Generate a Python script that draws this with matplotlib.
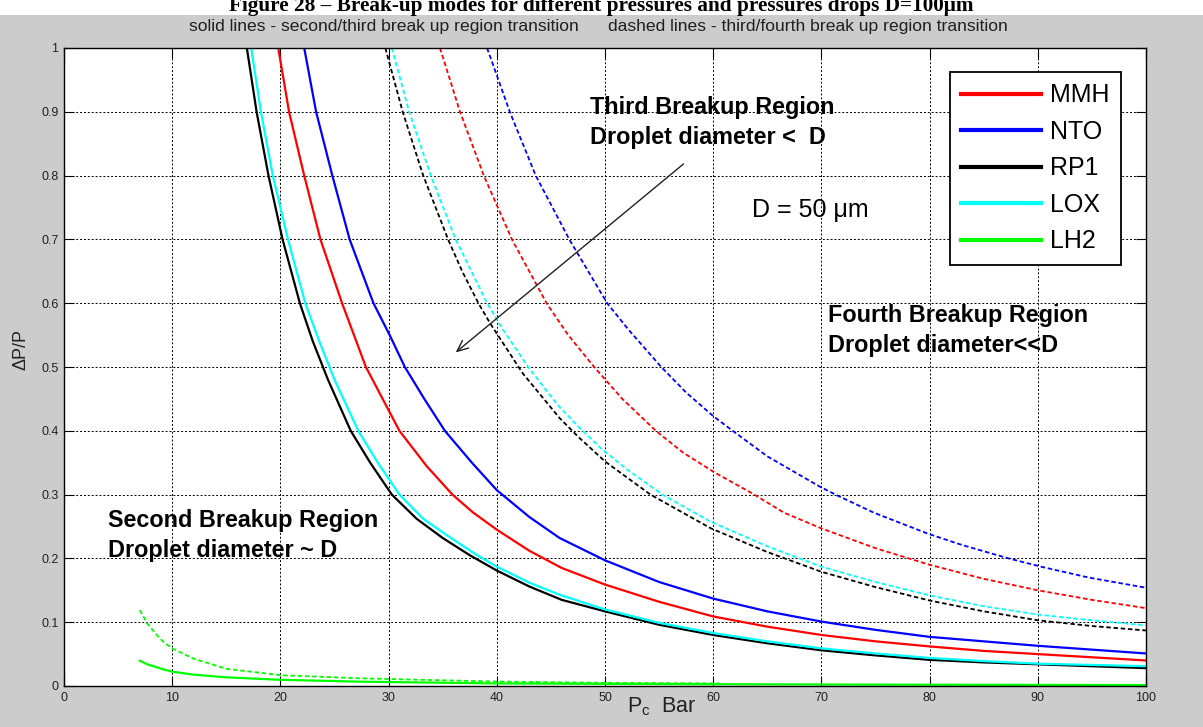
import matplotlib
matplotlib.use("Agg")
import matplotlib.pyplot as plt
from matplotlib.patches import Rectangle
from matplotlib.lines import Line2D
from matplotlib.ticker import FuncFormatter

plt.rcParams['font.family'] = ['Liberation Sans', 'DejaVu Sans']
plt.rcParams['mathtext.fontset'] = 'custom'
plt.rcParams['mathtext.rm'] = 'Liberation Sans'
plt.rcParams['mathtext.it'] = 'Liberation Sans'

# solid lines: second/third break up region transition
mmh_x = [19.8, 20.8, 22.2, 23.7, 25.7, 27.9, 31.0, 33.5, 35.9, 37.8, 40, 43, 46, 50,
         55, 60, 65, 70, 75, 80, 85, 90, 95, 100]
mmh_y = [1.0, 0.9, 0.8, 0.7, 0.6, 0.5, 0.4, 0.345, 0.30, 0.272, 0.245, 0.212, 0.185, 0.159,
         0.132, 0.109, 0.093, 0.080, 0.070, 0.062, 0.055, 0.050, 0.045, 0.040]
nto_x = [22.2, 23.3, 24.8, 26.4, 28.6, 30.1, 31.5, 33.3, 35.2, 37.7, 40, 43, 45.8, 50,
         55, 60, 65, 70, 75, 80, 85, 90, 95, 100]
nto_y = [1.0, 0.9, 0.8, 0.7, 0.6, 0.55, 0.5, 0.45, 0.4, 0.35, 0.307, 0.265, 0.232, 0.197,
         0.163, 0.137, 0.117, 0.101, 0.088, 0.077, 0.070, 0.063, 0.057, 0.051]
rp1_x = [16.9, 17.8, 18.9, 20.2, 21.8, 23.0, 24.4, 26.5, 28.3, 30.3, 32.6, 35.0, 37.5, 40,
         43, 46, 50, 55, 60, 65, 70, 75, 80, 85, 90, 95, 100]
rp1_y = [1.0, 0.9, 0.8, 0.7, 0.6, 0.54, 0.48, 0.40, 0.35, 0.30, 0.262, 0.232, 0.205, 0.181,
         0.156, 0.135, 0.117, 0.096, 0.080, 0.067, 0.056, 0.048, 0.041, 0.037, 0.034, 0.031, 0.028]
lox_x = [17.3, 18.2, 19.3, 20.7, 22.3, 23.6, 25.0, 27.2, 29.0, 31.0, 33.2, 35.5, 38.0, 40,
         43, 45.8, 50, 55, 60, 65, 70, 75, 80, 85, 90, 95, 100]
lox_y = [1.0, 0.9, 0.8, 0.7, 0.6, 0.54, 0.48, 0.40, 0.35, 0.30, 0.262, 0.235, 0.207, 0.187,
         0.162, 0.143, 0.120, 0.099, 0.083, 0.070, 0.059, 0.051, 0.044, 0.039, 0.035, 0.033, 0.031]
lh2_x = [7.0, 7.7, 8.57, 9.2, 10, 11.95, 15, 20, 27.4, 40, 60, 80, 100]
lh2_y = [0.0397, 0.034, 0.0295, 0.026, 0.0225, 0.0178, 0.0136, 0.0097, 0.0068, 0.004, 0.0028, 0.002, 0.0015]

# dashed lines: third/fourth break up region transition
mmh_dx = [34.75, 36.6, 38.8, 41.4, 44.6, 46.6, 49.0, 51.6, 54.7, 57.2, 60, 63.8, 66.5, 70,
          75, 80, 85, 90, 95, 100]
mmh_dy = [1.0, 0.9, 0.8, 0.7, 0.6, 0.55, 0.5, 0.45, 0.4, 0.366, 0.336, 0.3, 0.272, 0.247,
          0.216, 0.190, 0.168, 0.150, 0.135, 0.122]
nto_dx = [39.1, 41.2, 43.6, 46.7, 50.2, 52.2, 55.2, 57.5, 60.0, 61.8, 65.0, 69.8, 71.3, 74.8,
          79.8, 83.0, 87.3, 90.3, 94.7, 100]
nto_dy = [1.0, 0.9, 0.8, 0.7, 0.6, 0.558, 0.5, 0.46, 0.423, 0.4, 0.36, 0.313, 0.3, 0.272,
          0.239, 0.221, 0.2, 0.187, 0.170, 0.154]
rp1_dx = [29.7, 31.3, 33.2, 35.5, 36.8, 38.3, 39.4, 42.4, 45.8, 47.5, 50, 54.2, 59.8, 65, 70,
          75, 80, 85, 90, 95, 100]
rp1_dy = [1.0, 0.9, 0.8, 0.7, 0.65, 0.6, 0.568, 0.49, 0.42, 0.391, 0.352, 0.3, 0.247, 0.21,
          0.179, 0.155, 0.134, 0.117, 0.103, 0.094, 0.087]
lox_dx = [30.3, 31.9, 33.9, 36.2, 39.1, 40.6, 42.9, 45.6, 47.4, 49.6, 52.0, 55.3, 59.7, 65, 70, 75,
          80, 85, 90, 95, 100]
lox_dy = [1.0, 0.9, 0.8, 0.7, 0.6, 0.558, 0.5, 0.441, 0.409, 0.373, 0.34, 0.3, 0.258, 0.219, 0.187,
          0.163, 0.142, 0.125, 0.112, 0.103, 0.095]
lh2_dx = [7.0, 7.7, 8.57, 9.2, 10, 11.95, 15, 20, 27.4, 40, 50, 60.6]
lh2_dy = [0.119, 0.098, 0.080, 0.069, 0.059, 0.043, 0.027, 0.017, 0.012, 0.007, 0.005, 0.004]

names = ['MMH', 'NTO', 'RP1', 'LOX', 'LH2']
colors = ['#ff0000', '#0000ff', '#000000', '#00ffff', '#00ff00']

fig = plt.figure(figsize=(12.03, 7.27), dpi=100, facecolor='#cccccc')
fig.add_artist(Rectangle((0, 1 - 15 / 727), 1, 15 / 727, transform=fig.transFigure,
                         facecolor='white', edgecolor='none', zorder=0))
fig.text(0.5, 1 - 11 / 727,
         'Figure 28 \u2013 Break-up modes for different pressures and pressures drops D=100\u03bcm',
         ha='center', va='baseline', fontsize=15.3, fontweight='bold', family='Liberation Serif')

ax = fig.add_axes([64 / 1203, 41 / 727, 1082 / 1203, 638 / 727])

solid = [(mmh_x, mmh_y), (nto_x, nto_y), (rp1_x, rp1_y), (lox_x, lox_y), (lh2_x, lh2_y)]
dashed = [(mmh_dx, mmh_dy), (nto_dx, nto_dy), (rp1_dx, rp1_dy), (lox_dx, lox_dy), (lh2_dx, lh2_dy)]
for (x, y), c in zip(solid, colors):
    ax.plot(x, y, color=c, lw=1.6, solid_joinstyle='round')
for (x, y), c in zip(dashed, colors):
    ax.plot(x, y, color=c, lw=1.3, linestyle=(0, (2.5, 1.5)))

ax.set_xlim(0, 100)
ax.set_ylim(0, 1)
ax.set_xticks(range(0, 101, 10))
ax.set_yticks([i / 10 for i in range(11)])
ax.yaxis.set_major_formatter(FuncFormatter(lambda v, p: '%g' % round(v, 1)))
ax.grid(True, color='black', linestyle=(0, (2, 2)), lw=0.7)
ax.tick_params(direction='in', length=7, top=True, right=True, width=0.8,
               labelsize=9, labelcolor='#222222', pad=4)
for s in ax.spines.values():
    s.set_linewidth(1.0)

# annotations
bold = dict(fontsize=16.8, fontweight='bold', va='center', ha='left')
ax.text(48.6, 0.906, 'Third Breakup Region', **bold)
ax.text(48.6, 0.860, 'Droplet diameter <  D', **bold)
ax.text(70.6, 0.580, 'Fourth Breakup Region', **bold)
ax.text(70.6, 0.534, 'Droplet diameter<<D', **bold)
ax.text(4.1, 0.259, 'Second Breakup Region', **bold)
ax.text(4.1, 0.213, 'Droplet diameter ~ D', **bold)
ax.text(63.6, 0.746, 'D = 50 \u03bcm', fontsize=18, va='center', ha='left')
ax.annotate('', xy=(36.0, 0.52), xytext=(57.45, 0.821),
            arrowprops=dict(arrowstyle='->,head_length=0.8,head_width=0.35', color='#222222', lw=1))

handles = [Line2D([], [], color=c, lw=3) for c in colors]
leg = ax.legend(handles, names, loc='upper left', bbox_to_anchor=(0.819, 0.962),
                borderaxespad=0, fontsize=18, handlelength=3.2, handletextpad=0.35,
                labelspacing=0.5, borderpad=0.45, fancybox=False, framealpha=1,
                edgecolor='black')
leg.get_frame().set_linewidth(1.3)

fig.text(598 / 1203, 1 - 27 / 727,
         'solid lines - second/third break up region transition'
         '      dashed lines - third/fourth break up region transition',
         ha='center', va='center', fontsize=12.6, color='#202020')
fig.text(627 / 1203, 1 - 712 / 727, r'$\mathrm{P_c}$  Bar', ha='left', va='baseline',
         fontsize=15.5, color='#222222')
fig.text(21 / 1203, 1 - 350 / 727, '\u0394P/P', rotation=90, ha='center', va='center',
         fontsize=13, color='#222222')

fig.savefig('out.png', dpi=100, facecolor=fig.get_facecolor())
